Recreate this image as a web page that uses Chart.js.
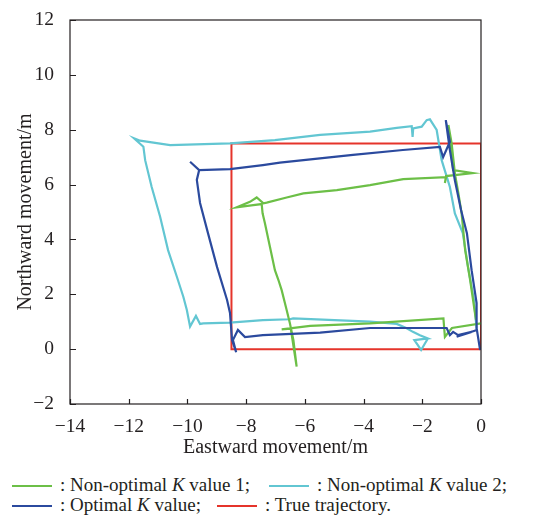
<!DOCTYPE html>
<html>
<head>
<meta charset="utf-8">
<script src="https://cdn.jsdelivr.net/npm/chart.js@4.4.1/dist/chart.umd.min.js"></script>
<style>
  html, body { margin: 0; padding: 0; background: #fff; }
  #wrap { position: relative; width: 558px; height: 522px; font-family: 'Liberation Serif', 'Times New Roman', serif; color: #231f20; }
  #box { position: absolute; left: 0; top: 0; width: 558px; height: 460px; }
  .leg { position: absolute; font-size: 19px; line-height: 20px; white-space: nowrap; }
  .leg .sw { display: inline-block; width: 40px; height: 2px; vertical-align: middle; margin-right: 8px; position: relative; top: -1px; }
</style>
</head>
<body>
<div id="wrap">
  <div id="box"><canvas id="chart-track"></canvas></div>
  <div class="leg" style="left:12px; top:475px"><span class="sw" style="background:#6cbf47"></span>: Non-optimal <i>K</i> value 1;</div>
  <div class="leg" style="left:269px; top:475px"><span class="sw" style="background:#62c6d2"></span>: Non-optimal <i>K</i> value 2;</div>
  <div class="leg" style="left:12px; top:495px"><span class="sw" style="background:#2b4a9e"></span>: Optimal <i>K</i> value;</div>
  <div class="leg" style="left:217px; top:495px"><span class="sw" style="background:#e5342b"></span>: True trajectory.</div>
</div>
<script>
// trajectories (east / north, metres)
var greenX = [-0.17,-0.37,-0.54,-0.66,-0.77,-0.89,-1.00,-1.11,-0.95,-0.27,-1.19,-1.23,-1.19,-2.65,-3.78,-4.91,-6.05,-6.62,-7.30,-7.41,-7.64,-7.87,-8.32,-7.76,-7.47,-7.44,-7.36,-7.19,-7.02,-6.90,-6.79,-6.62,-6.51,-6.39,-6.28,-6.48,-6.79,-5.82,-3.78,-1.28,-1.23,-0.99,0.07,0.20];
var greenY = [1.06,2.52,3.61,4.95,5.68,6.41,7.50,8.17,6.53,6.42,6.31,6.06,6.27,6.20,5.98,5.80,5.68,5.53,5.34,5.32,5.53,5.37,5.17,5.25,5.29,4.95,4.59,3.73,2.88,2.52,2.15,1.43,0.94,0.33,-0.64,0.75,0.72,0.85,0.94,1.12,0.45,0.77,0.95,1.02];

var cyanX = [-0.15,-0.24,-0.44,-0.62,-0.89,-1.06,-1.34,-1.51,-1.74,-1.85,-2.02,-2.31,-2.33,-2.36,-2.87,-3.78,-5.48,-7.02,-8.55,-10.59,-11.61,-11.82,-11.50,-11.44,-11.22,-10.93,-10.66,-10.36,-10.14,-10.02,-9.91,-9.71,-9.57,-9.46,-8.55,-7.43,-6.51,-6.40,-3.78,-2.87,-2.53,-2.32,-2.08,-1.81,-2.27,-2.04,-1.81];
var cyanY = [0.75,1.79,2.99,4.23,4.95,5.91,6.89,7.99,8.38,8.35,8.11,8.05,7.74,8.13,8.07,7.93,7.81,7.62,7.50,7.44,7.60,7.69,7.38,6.89,5.92,4.83,3.61,2.64,1.91,1.43,0.82,1.21,0.92,0.94,0.97,1.06,1.09,1.12,1.00,0.92,0.76,0.63,0.51,0.39,0.33,-0.03,0.39];

var blueX = [-0.03,-0.14,-0.15,-0.32,-0.48,-0.68,-0.89,-1.06,-1.20,-1.06,-1.29,-1.40,-2.66,-4.36,-6.85,-7.43,-8.55,-9.60,-9.91,-9.60,-9.68,-9.57,-9.30,-8.99,-8.65,-8.55,-8.48,-8.34,-8.45,-8.28,-8.04,-7.43,-5.48,-3.78,-1.17,-1.06,-0.95,-0.78,-0.32,-0.83,-0.14];
var blueY = [-0.03,0.70,1.68,2.88,4.23,5.07,6.16,7.26,8.35,7.56,7.00,7.37,7.26,7.08,6.80,6.71,6.56,6.53,6.83,6.53,6.17,5.33,4.23,2.99,1.79,1.32,0.33,-0.11,0.33,0.70,0.44,0.51,0.60,0.77,0.77,0.51,0.63,0.51,0.63,0.45,0.70];

var trueX = [0, 0, -8.5, -8.5, 0];
var trueY = [0, 7.5, 7.5, 0, 0];

var xTicks = [-14, -12, -10, -8, -6, -4, -2, 0];
var yTicks = [-2, 0, 2, 4, 6, 8, 10, 12];

var INK = '#231f20';
var FONT = "'Liberation Serif', 'Times New Roman', serif";

function pts(xs, ys) {
  return xs.map(function (x, i) { return { x: x, y: ys[i] }; });
}

function minus(v) {
  return String(v).replace('-', '\u2212');
}

// frame + inward tick marks
var framePlugin = {
  id: 'frame',
  afterDatasetsDraw: function (chart) {
    var a = chart.chartArea, ctx = chart.ctx;
    var sx = chart.scales.x, sy = chart.scales.y;
    ctx.save();
    ctx.strokeStyle = INK;
    ctx.lineWidth = 1.2;
    ctx.strokeRect(a.left, a.top, a.right - a.left, a.bottom - a.top);
    ctx.beginPath();
    xTicks.forEach(function (t) {
      var px = Math.round(sx.getPixelForValue(t)) + 0.5;
      ctx.moveTo(px, a.bottom);
      ctx.lineTo(px, a.bottom - 5);
    });
    yTicks.forEach(function (t) {
      var py = Math.round(sy.getPixelForValue(t)) + 0.5;
      ctx.moveTo(a.left, py);
      ctx.lineTo(a.left + 6, py);
    });
    ctx.stroke();
    ctx.restore();
  }
};

var line = function (label, xs, ys, color, order, width) {
  return {
    label: label,
    data: pts(xs, ys),
    showLine: true,
    borderColor: color,
    backgroundColor: color,
    borderWidth: width,
    pointRadius: 0,
    tension: 0,
    order: order
  };
};

new Chart(document.getElementById('chart-track'), {
  type: 'scatter',
  data: {
    datasets: [
      line('Optimal K value', blueX, blueY, '#2b4a9e', 1, 2.2),
      line('Non-optimal K value 1', greenX, greenY, '#6cbf47', 2, 2.2),
      line('Non-optimal K value 2', cyanX, cyanY, '#62c6d2', 3, 2.2),
      line('True trajectory', trueX, trueY, '#e5342b', 4, 2)
    ]
  },
  options: {
    responsive: true, maintainAspectRatio: false, animation: false,
    layout: { padding: { top: 20, right: 77, left: 0, bottom: 0 } },
    plugins: { legend: { display: false }, tooltip: { enabled: false } },
    scales: {
      x: {
        type: 'linear', min: -14, max: 0,
        afterBuildTicks: function (s) { s.ticks = xTicks.map(function (v) { return { value: v }; }); },
        afterFit: function (s) { s.height = 56; },
        grid: { display: false }, border: { display: false },
        ticks: { color: INK, padding: 3, maxRotation: 0, font: { family: FONT, size: 19.5 }, callback: function (v) { return minus(v); } },
        title: { display: true, text: 'Eastward movement/m', color: INK, padding: { bottom: 0 }, font: { family: FONT, size: 20 } }
      },
      y: {
        type: 'linear', min: -2, max: 12,
        afterBuildTicks: function (s) { s.ticks = yTicks.map(function (v) { return { value: v }; }); },
        afterFit: function (s) { s.width = 70; },
        grid: { display: false }, border: { display: false },
        ticks: { color: INK, padding: 8, font: { family: FONT, size: 19.5 }, callback: function (v) { return minus(v); } },
        title: { display: true, text: 'Northward movement/m', color: INK, padding: { top: 14 }, font: { family: FONT, size: 20 } }
      }
    }
  },
  plugins: [framePlugin]
});
</script>
</body>
</html>
